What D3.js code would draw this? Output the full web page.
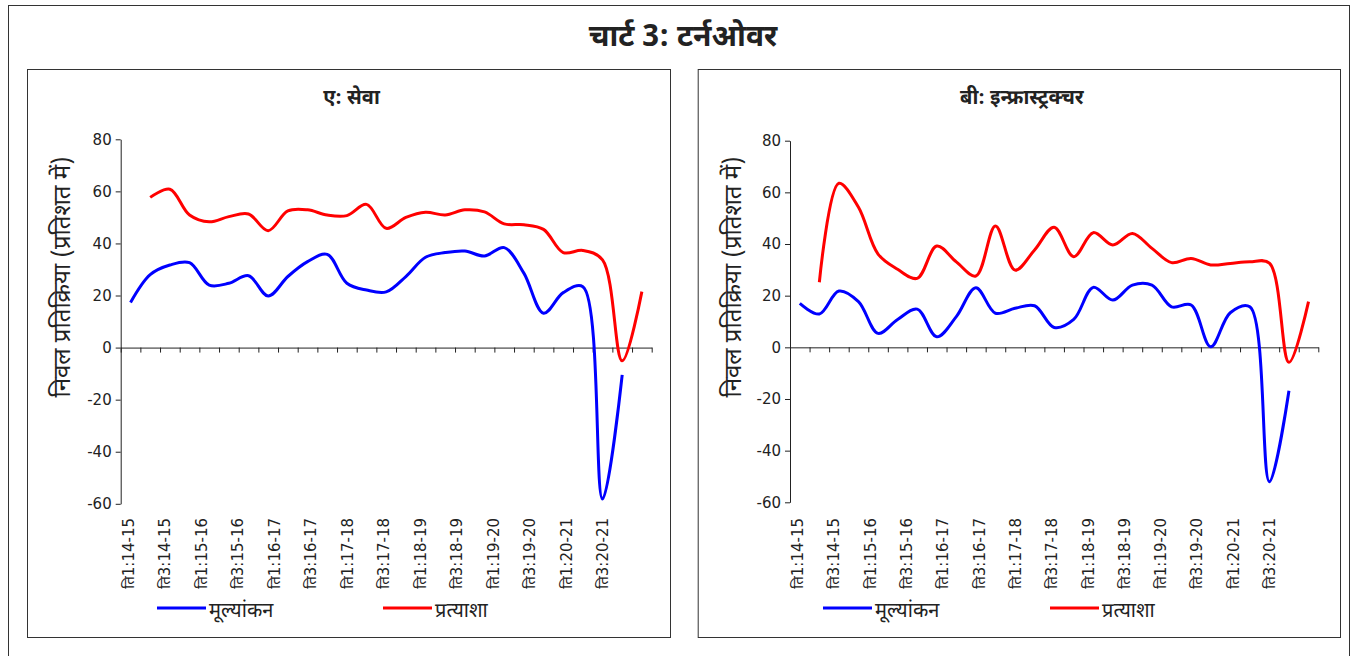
<!DOCTYPE html>
<html lang="hi">
  <head>
    <meta charset="utf-8">
    <title>चार्ट 3: टर्नओवर</title>
    <script src="https://d3js.org/d3.v7.min.js"></script>
    <style>
    body { margin: 0; background: #fff; }
    svg text { font-family: "Noto Sans Devanagari", "Noto Sans", sans-serif; fill: #222; }
    svg text.num { font-family: "DejaVu Sans", "Noto Sans Devanagari", sans-serif; }
    </style>
  </head>
  <body>
    <div id="chart"></div>

    <script>
        // quarters, ति = तिमाही
        const quarters = [
            "ति1:14-15", "ति2:14-15", "ति3:14-15", "ति4:14-15",
            "ति1:15-16", "ति2:15-16", "ति3:15-16", "ति4:15-16",
            "ति1:16-17", "ति2:16-17", "ति3:16-17", "ति4:16-17",
            "ति1:17-18", "ति2:17-18", "ति3:17-18", "ति4:17-18",
            "ति1:18-19", "ति2:18-19", "ति3:18-19", "ति4:18-19",
            "ति1:19-20", "ति2:19-20", "ति3:19-20", "ति4:19-20",
            "ति1:20-21", "ति2:20-21", "ति3:20-21"
        ]
        const tickLabels = [
            "ति1:14-15", "ति3:14-15", "ति1:15-16", "ति3:15-16", "ति1:16-17", "ति3:16-17", "ति1:17-18",
            "ति3:17-18", "ति1:18-19", "ति3:18-19", "ति1:19-20", "ति3:19-20", "ति1:20-21", "ति3:20-21"
        ]
        const yTicks = [-60, -40, -20, 0, 20, 40, 60, 80]
        const seriesNames = ["मूल्यांकन", "प्रत्याशा"]

        // A: services
        const servicesAssessment = [17.3, 28.0, 31.7, 32.6, 24.0, 24.7, 27.6, 19.8, 27.3, 33.0, 35.8, 24.7, 22.1, 21.4,
            27.3, 34.7, 36.5, 37.1, 35.2, 38.4, 28.6, 13.2, 21.1, 23.4, -58.2, -10.5, null]
        const servicesExpectation = [null, 57.7, 60.8, 50.9, 48.3, 50.3, 51.3, 44.9, 52.5, 52.9, 50.9, 50.7, 55.0, 45.8,
            50.0, 52.0, 50.9, 52.9, 52.1, 47.5, 47.2, 45.4, 36.5, 37.3, 33.7, -5.1, 21.5]

        // B: infrastructure
        const infraAssessment = [17.0, 12.9, 21.8, 17.7, 5.4, 10.8, 14.8, 4.1, 11.9, 23.1, 13.2, 15.1, 16.1, 7.7,
            10.8, 23.2, 18.3, 24.1, 24.1, 15.7, 16.4, 0.2, 13.4, 15.7, -52.0, -16.8, null]
        const infraExpectation = [null, 25.2, 63.5, 54.2, 36.1, 30.2, 26.7, 39.2, 33.1, 27.6, 47.0, 29.9, 37.7, 46.5,
            35.1, 44.4, 39.6, 44.1, 38.3, 32.8, 34.4, 31.9, 32.5, 33.1, 32.6, -5.8, 17.7]

        const colors = ["#0000ff", "#ff0000"]

        const measurements = { width: 1356, height: 656 }

        const panels = [
            { title: "ए: सेवा", frame: [27, 69, 670, 637], plot: [120.7, 651.7, 139.3, 503.8],
              legend: [157, 383], series: [servicesAssessment, servicesExpectation] },
            { title: "बी: इन्फ्रास्ट्रक्चर", frame: [697.7, 69, 1340, 637], plot: [790, 1318.3, 140.7, 502.3],
              legend: [823, 1050], series: [infraAssessment, infraExpectation] }
        ]

        const svg = d3.select("#chart").append("svg")
            .attr("width", measurements.width)
            .attr("height", measurements.height)

        // outer frame
        svg.append("rect")
            .attr("x", 8.5).attr("y", 5.5)
            .attr("width", 1341).attr("height", 670)
            .attr("fill", "none").attr("stroke", "#333").attr("stroke-width", 1)

        svg.append("text")
            .attr("x", 683).attr("y", 46)
            .attr("text-anchor", "middle")
            .style("font-size", "30px").style("font-weight", "bold")
            .text("चार्ट 3: टर्नओवर")

        panels.forEach(function(p) {
            const g = svg.append("g")
            const [fx0, fy0, fx1, fy1] = p.frame
            const [px0, px1, py0, py1] = p.plot

            g.append("rect")
                .attr("x", fx0 + 0.5).attr("y", fy0 + 0.5)
                .attr("width", fx1 - fx0).attr("height", fy1 - fy0)
                .attr("fill", "none").attr("stroke", "#333")

            g.append("text")
                .attr("x", (fx0 + fx1) / 2 + 3).attr("y", 104)
                .attr("text-anchor", "middle")
                .style("font-size", "20px").style("font-weight", "bold")
                .text(p.title)

            const scaleX = d3.scaleBand().domain(quarters).range([px0, px1]).paddingInner(0).paddingOuter(0)
            const boundary = d3.scaleLinear().domain([0, quarters.length]).range([px0, px1])
            const scaleY = d3.scaleLinear().domain([-60, 80]).range([py1, py0])
            const cx = function(q) { return scaleX(q) + scaleX.bandwidth() / 2 }

            // y axis (plain hyphen for negatives, like the original)
            const yAxis = d3.axisLeft(scaleY).tickValues(yTicks).tickSize(5).tickSizeOuter(0).tickPadding(4)
                .tickFormat(function(d) { return String(d) })
            const ya = g.append("g")
                .attr("transform", "translate(" + px0 + ",0)")
                .call(yAxis)
            ya.selectAll("text").attr("class", "num").style("font-size", "15px").attr("fill", "#222")
            ya.selectAll("line, path").attr("stroke", "#222")

            // x axis through zero
            const xAxis = d3.axisBottom(boundary).tickValues(d3.range(quarters.length + 1)).tickSize(5).tickSizeOuter(0).tickFormat("")
            const xa = g.append("g")
                .attr("transform", "translate(0," + scaleY(0) + ")")
                .call(xAxis)
            xa.selectAll("line, path").attr("stroke", "#222")

            // category labels (drawn every second quarter)
            const labelScale = d3.scalePoint().domain(tickLabels)
                .range([cx(quarters[0]) - 2.5, cx(quarters[24])])
            g.selectAll(".xlab").data(tickLabels).enter()
                .append("text")
                .attr("class", "xlab num")
                .attr("transform", function(d) { return "translate(" + labelScale(d) + ",518) rotate(-90)" })
                .attr("dy", "0.38em")
                .attr("text-anchor", "end")
                .style("font-size", "15px")
                .text(function(d) { return d })

            // y title
            g.append("text")
                .attr("transform", "translate(" + (fx0 + 35) + ",277) rotate(-90)")
                .attr("dy", "0.35em")
                .attr("text-anchor", "middle")
                .style("font-size", "24px")
                .text("निवल प्रतिक्रिया (प्रतिशत में)")

            // lines
            const line = d3.line()
                .defined(function(d) { return d.v !== null })
                .x(function(d) { return cx(d.q) })
                .y(function(d) { return scaleY(d.v) })
                .curve(d3.curveCatmullRom.alpha(0.5))

            p.series.forEach(function(vals, k) {
                const data = quarters.map(function(q, i) { return { q: q, v: vals[i] } })
                g.append("path")
                    .datum(data.filter(function(d) { return d.v !== null }))
                    .attr("d", line)
                    .attr("fill", "none")
                    .attr("stroke", colors[k])
                    .attr("stroke-width", 3)
            })

            // legend
            seriesNames.forEach(function(name, k) {
                const lx = p.legend[k]
                g.append("line")
                    .attr("x1", lx).attr("x2", lx + 49)
                    .attr("y1", 608).attr("y2", 608)
                    .attr("stroke", colors[k]).attr("stroke-width", 3)
                g.append("text")
                    .attr("x", lx + 52).attr("y", 617)
                    .style("font-size", "20px")
                    .text(name)
            })
        })
    </script>

  </body>
</html>
